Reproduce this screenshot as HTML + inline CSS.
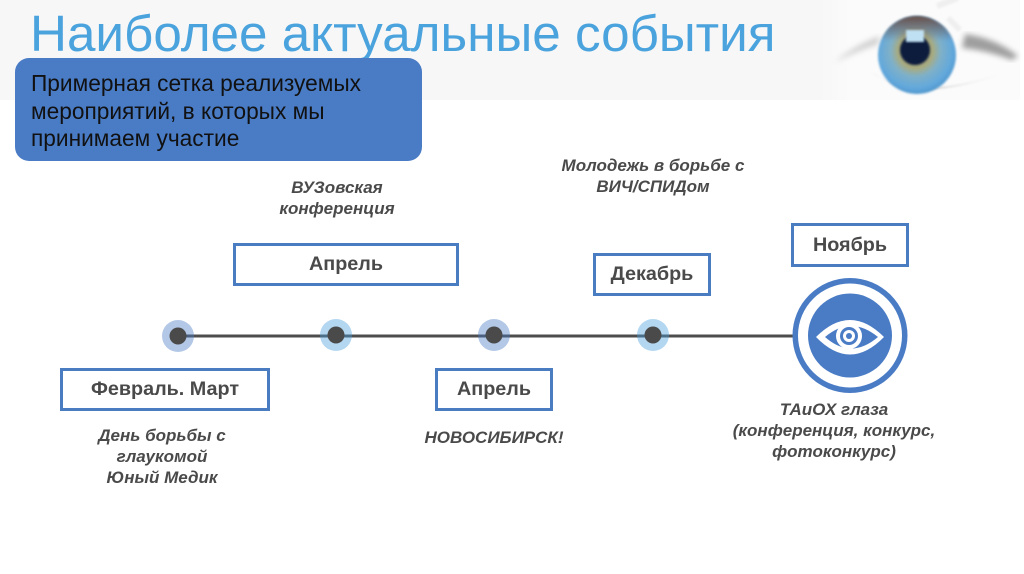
<!DOCTYPE html>
<html lang="ru">
<head>
<meta charset="utf-8">
<style>
html,body{margin:0;padding:0;background:#fff;}
#p{position:relative;width:1024px;height:574px;overflow:hidden;background:#fff;font-family:"Liberation Sans",sans-serif;}
#band{position:absolute;left:0;top:0;width:1024px;height:100px;background:#f7f7f7;}
h1{position:absolute;left:30px;top:5px;margin:0;font-weight:400;font-size:51.2px;line-height:58px;color:#4ba3de;white-space:nowrap;}
#note{position:absolute;left:15px;top:58px;width:407px;height:103px;background:#4a7cc6;border-radius:14px;}
#nt{position:absolute;left:31px;top:70px;font-size:22.7px;line-height:27.5px;color:#111;white-space:nowrap;}
.b{position:absolute;box-sizing:border-box;border:3px solid #4a7cc2;background:#fff;color:#4a4a4a;font-weight:700;font-size:19.8px;display:flex;align-items:center;justify-content:center;white-space:nowrap;}
.t{position:absolute;font-style:italic;font-weight:700;font-size:17px;line-height:21px;color:#4a4a4a;text-align:center;white-space:nowrap;transform:translateX(-50%);}
svg{position:absolute;left:0;top:0;}
</style>
</head>
<body>
<div id="p">
<div id="band"></div>
<svg width="1024" height="574" viewBox="0 0 1024 574">
<defs>
<radialGradient id="iris" cx="0.48" cy="0.45" r="0.56">
<stop offset="0" stop-color="#8a8460"/><stop offset="0.4" stop-color="#a8ab80"/><stop offset="0.58" stop-color="#7fb0c8"/><stop offset="0.85" stop-color="#62a8dc"/><stop offset="1" stop-color="#4f96cc"/>
</radialGradient>
<linearGradient id="lid" x1="0" y1="0" x2="0" y2="1"><stop offset="0" stop-color="#6a5048"/><stop offset="0.32" stop-color="#6a5048" stop-opacity="0"/></linearGradient>
<linearGradient id="fade" x1="0" y1="0" x2="1" y2="0"><stop offset="0" stop-color="#f7f7f7"/><stop offset="0.15" stop-color="#fbfbfb"/><stop offset="1" stop-color="#fbfbfb"/></linearGradient>
<filter id="f1"><feGaussianBlur stdDeviation="1"/></filter>
<filter id="f3"><feGaussianBlur stdDeviation="3"/></filter>
</defs>
<rect x="820" y="0" width="200" height="100" fill="url(#fade)"/>
<rect x="1020" y="0" width="4" height="100" fill="#fff"/>
<path d="M870 72 Q920 102 1000 74 Q950 92 905 90Z" fill="#aaa" opacity=".55" filter="url(#f1)"/>
<path d="M965 34 Q995 38 1018 56 L1012 60 Q985 50 962 48Z" fill="#777" opacity=".7" filter="url(#f3)"/>
<path d="M835 62 Q855 45 880 36 L878 44 Q855 52 835 62Z" fill="#bbb" opacity=".7" filter="url(#f3)"/>
<circle cx="917" cy="55" r="39" fill="url(#iris)" filter="url(#f1)"/>
<circle cx="917" cy="55" r="39" fill="url(#lid)" filter="url(#f1)"/>
<circle cx="915" cy="50" r="15" fill="#0c1a3c" filter="url(#f1)"/>
<rect x="906" y="30" width="18" height="12" fill="#bfe0f2" filter="url(#f1)"/>
<path d="M937 6 L958 -2 M948 18 L960 30" stroke="#efefef" stroke-width="6" filter="url(#f1)"/>

<line x1="178" y1="336" x2="800" y2="336" stroke="#4d4d4d" stroke-width="3"/>
<circle cx="178" cy="336" r="16" fill="#4a7cc6" opacity=".42"/>
<circle cx="336" cy="335" r="16" fill="#4ba0de" opacity=".42"/>
<circle cx="494" cy="335" r="16" fill="#4a7cc6" opacity=".42"/>
<circle cx="653" cy="335" r="16" fill="#4ba0de" opacity=".42"/>
<circle cx="178" cy="336" r="8.5" fill="#4a4a4a"/>
<circle cx="336" cy="335" r="8.5" fill="#4a4a4a"/>
<circle cx="494" cy="335" r="8.5" fill="#4a4a4a"/>
<circle cx="653" cy="335" r="8.5" fill="#4a4a4a"/>

<circle cx="850" cy="335.5" r="57.5" fill="#4a7cc6"/>
<circle cx="850" cy="335.5" r="52" fill="#fff"/>
<circle cx="850" cy="335.5" r="42" fill="#4a7cc6"/>
<path d="M816 337 Q850 303 884 337 Q850 372 816 337Z" fill="#fff"/>
<path d="M825 337 Q851 315 878 337 Q851 360 825 337Z" fill="#4a7cc6"/>
<circle cx="849" cy="336" r="13" fill="#fff"/>
<circle cx="849" cy="336" r="9" fill="#4a7cc6"/>
<circle cx="849" cy="336" r="6" fill="#fff"/>
<circle cx="849" cy="336" r="3" fill="#4a7cc6"/>
</svg>

<h1>Наиболее актуальные события</h1>
<div id="note"></div>
<div id="nt">Примерная сетка реализуемых<br>мероприятий, в которых мы<br>принимаем участие</div>

<div class="b" style="left:233px;top:243px;width:226px;height:43px;">Апрель</div>
<div class="b" style="left:593px;top:253px;width:118px;height:43px;">Декабрь</div>
<div class="b" style="left:791px;top:223px;width:118px;height:44px;">Ноябрь</div>
<div class="b" style="left:60px;top:368px;width:210px;height:43px;">Февраль. Март</div>
<div class="b" style="left:435px;top:368px;width:118px;height:43px;">Апрель</div>

<div class="t" style="left:337px;top:177px;">ВУЗовская<br>конференция</div>
<div class="t" style="left:653px;top:155px;">Молодежь в борьбе с<br>ВИЧ/СПИДом</div>
<div class="t" style="left:162px;top:425px;">День борьбы с<br>глаукомой<br>Юный Медик</div>
<div class="t" style="left:494px;top:427px;">НОВОСИБИРСК!</div>
<div class="t" style="left:834px;top:399px;">ТАиОХ глаза<br>(конференция, конкурс,<br>фотоконкурс)</div>
</div>
</body>
</html>
